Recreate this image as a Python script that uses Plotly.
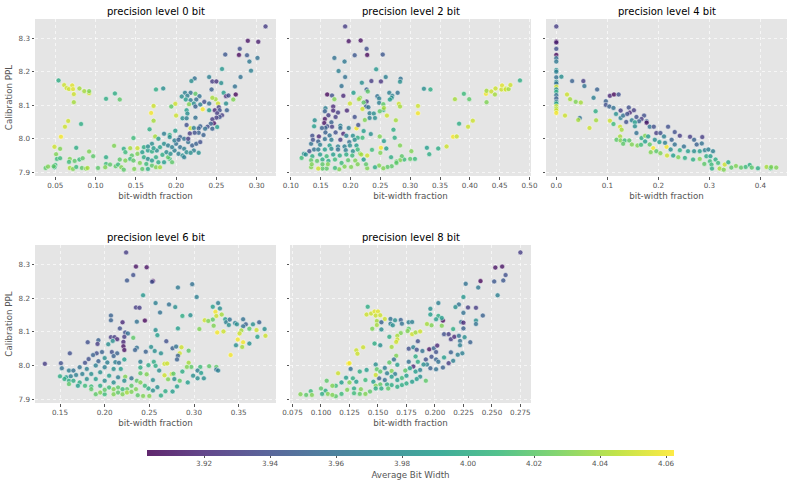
import plotly.graph_objects as go

# Bit-width fraction, calibration PPL and average bit width, one set per precision level.
p0_x = [.311,.289,.302,.279,.261,.278,.288,.301,.291,.293,
        .257,.280,.241,.223,.219,.245,.250,.256,.273,.244,
        .259,.211,.218,.262,.265,.274,.271,.224,.214,.207,
        .229,.212,.218,.225,.222,.216,.230,.224,.235,.241,
        .249,.245,.252,.262,.253,.248,.254,.263,.251,.257,
        .233,.241,.213,.214,.208,.213,.224,.199,.200,.194,
        .254,.250,.245,.247,.243,.239,.213,.218,.230,.228,
        .222,.236,.245,.251,.199,.234,.228,.223,.217,.192,
        .054,.061,.071,.064,.067,.072,.080,.086,.092,.073,
        .092,.073,.066,.062,.057,.082,.049,.076,.056,.051,
        .052,.056,.068,.067,.074,.080,.084,.092,.097,.113,
        .050,.049,.048,.038,.041,.068,.072,.076,.083,.088,
        .090,.103,.113,.112,.118,.123,.113,.124,.130,.175,
        .184,.172,.169,.172,.167,.147,.174,.135,.143,.152,
        .137,.145,.152,.158,.165,.170,.176,.125,.128,.130,
        .132,.135,.137,.143,.147,.148,.155,.158,.163,.165,
        .170,.175,.180,.185,.192,.195,.190,.160,.165,.170,
        .175,.178,.183,.188,.193,.198,.203,.180,.185,.190,
        .195,.200,.205,.210,.213,.208,.210,.215,.220,.225,
        .230,.222,.218,.228,.205,.210,.215,.178,.185,.192,
        .198,.203,.170,.160,.165,.172]
p0_y = [8.335,8.292,8.289,8.268,8.251,8.250,8.249,8.241,8.230,8.203,
        8.208,8.184,8.184,8.180,8.172,8.171,8.171,8.166,8.156,8.147,
        8.137,8.137,8.137,8.127,8.129,8.132,8.117,8.134,8.128,8.126,
        8.127,8.117,8.115,8.117,8.105,8.103,8.102,8.096,8.110,8.105,
        8.118,8.122,8.105,8.105,8.094,8.085,8.085,8.085,8.076,8.070,
        8.088,8.085,8.085,8.075,8.061,8.061,8.063,8.104,8.069,8.096,
        8.065,8.063,8.058,8.046,8.045,8.036,8.041,8.031,8.037,8.031,
        8.032,8.030,8.030,8.035,8.024,8.011,8.018,8.018,8.016,8.011,
        8.174,8.160,8.159,8.151,8.148,8.148,8.150,8.142,8.136,8.133,
        8.142,8.109,8.053,8.036,8.006,8.044,7.976,7.973,7.970,7.954,
        7.940,7.942,7.940,7.931,7.934,7.938,7.942,7.962,7.948,7.945,
        7.922,7.915,7.918,7.913,7.917,7.913,7.910,7.916,7.913,7.911,
        7.913,7.913,7.925,7.915,7.923,7.979,8.119,8.135,8.117,8.147,
        8.150,8.098,8.077,8.054,8.028,8.002,8.007,7.970,7.972,7.972,
        7.960,7.950,7.955,7.960,7.965,7.962,7.965,7.918,7.923,7.938,
        7.915,7.908,7.935,7.940,7.935,7.910,7.928,7.910,7.925,7.910,
        7.920,7.915,7.915,7.930,7.940,7.930,7.945,7.945,7.940,7.935,
        7.945,7.930,7.952,7.960,7.955,7.965,7.955,7.975,7.985,7.980,
        7.975,7.985,7.975,7.970,7.960,7.950,7.945,7.990,7.980,7.985,
        7.990,7.965,7.958,7.958,8.005,8.000,8.000,8.000,8.015,8.005,
        7.995,7.997,7.985,7.975,7.977,7.972]
p0_c = [3.93,3.91,3.915,3.94,3.945,3.905,3.945,3.96,3.965,3.97,
        3.985,3.96,3.97,3.96,3.98,3.93,3.925,3.98,3.96,3.95,
        3.99,3.97,3.96,3.92,3.94,3.905,4.03,4.02,3.97,3.98,
        3.96,3.99,3.97,3.96,3.98,4.03,3.97,3.95,3.94,3.96,
        4.04,4.04,4.05,3.98,3.93,3.92,3.94,3.95,3.93,3.93,
        4.06,3.99,3.99,3.98,3.98,3.97,3.96,4.05,4.05,4.02,
        3.94,3.93,3.93,3.91,3.95,3.94,3.94,4.05,3.95,3.95,
        3.97,3.96,3.95,3.99,3.99,3.95,3.95,3.94,3.93,4.00,
        4.00,4.05,4.055,4.05,4.05,4.055,4.04,4.04,4.05,4.05,
        4.03,4.04,4.05,4.05,4.06,4.00,4.05,4.00,4.03,4.03,
        4.01,4.01,4.03,4.01,4.02,4.01,4.02,4.03,4.02,4.00,
        4.01,4.00,4.02,4.02,4.03,4.04,4.03,4.01,4.02,4.03,
        4.04,4.02,4.01,4.03,4.02,4.03,4.00,4.00,4.02,4.00,
        3.98,4.05,4.06,4.04,4.00,4.01,4.04,4.00,4.04,4.05,
        4.01,4.02,4.03,3.99,3.99,4.00,3.98,4.02,4.01,4.02,
        4.03,4.02,4.03,4.01,4.02,4.03,4.03,4.02,4.01,4.00,
        4.02,4.03,4.04,3.99,4.01,4.02,4.02,4.00,3.98,3.99,
        4.00,4.00,4.00,3.98,3.98,3.97,3.97,3.99,3.98,3.97,
        3.97,3.96,3.96,3.97,3.98,3.98,3.97,3.96,3.95,3.95,
        3.94,3.97,3.98,3.98,3.95,3.96,3.93,3.99,3.97,3.98,
        3.97,3.95,3.98,4.00,3.98,3.99]

p2_x = [.191,.197,.217,.227,.207,.228,.254,.173,.190,.180,
        .243,.191,.259,.284,.283,.235,.251,.219,.185,.227,
        .205,.265,.279,.188,.161,.169,.173,.229,.270,.269,
        .266,.245,.248,.216,.214,.227,.222,.199,.248,.255,
        .281,.283,.226,.220,.230,.255,.249,.256,.158,.171,
        .171,.194,.157,.179,.163,.175,.207,.157,.232,.239,
        .241,.232,.261,.224,.276,.313,.313,.323,.334,.375,
        .390,.399,.428,.427,.428,.436,.443,.442,.453,.454,
        .460,.460,.465,.468,.484,.382,.405,.397,.372,.378,
        .361,.347,.328,.332,.302,.300,.308,.290,.286,.283,
        .277,.277,.268,.283,.274,.272,.249,.251,.256,.260,
        .250,.236,.234,.228,.222,.220,.210,.213,.197,.269,
        .262,.255,.248,.241,.228,.226,.222,.216,.201,.190,
        .181,.174,.160,.153,.146,.134,.118,.122,.140,.139,
        .168,.156,.161,.169,.183,.183,.158,.152,.175,.158,
        .188,.136,.147,.165,.193,.204,.212,.134,.137,.146,
        .157,.168,.183,.198,.207,.149,.165,.179,.190,.199,
        .210,.131,.139,.146,.157,.168,.179,.192,.204,.212,
        .125,.136,.149,.160,.171,.182,.193,.203,.218,.134,
        .144,.153,.163,.174,.185,.196,.208,.162,.135,.153,.212]
p2_y = [8.335,8.291,8.293,8.268,8.249,8.250,8.251,8.241,8.230,8.202,
        8.207,8.184,8.184,8.179,8.170,8.172,8.171,8.167,8.157,8.147,
        8.137,8.137,8.137,8.128,8.132,8.129,8.118,8.141,8.128,8.122,
        8.117,8.127,8.120,8.122,8.118,8.111,8.108,8.105,8.107,8.103,
        8.104,8.096,8.096,8.089,8.094,8.086,8.082,8.092,8.091,8.096,
        8.084,8.084,8.082,8.078,8.070,8.065,8.065,8.059,8.076,8.075,
        8.062,8.062,8.069,8.056,8.055,8.098,8.076,8.149,8.147,8.118,
        8.134,8.118,8.109,8.134,8.143,8.141,8.150,8.132,8.147,8.159,
        8.150,8.147,8.148,8.160,8.174,8.045,8.054,8.036,8.006,8.007,
        7.977,7.971,7.973,7.954,7.963,7.940,7.940,7.938,7.948,7.936,
        7.932,7.928,7.945,7.980,8.003,8.027,8.007,7.973,7.993,7.971,
        7.958,7.967,8.014,7.950,8.023,8.003,8.031,8.041,8.032,7.918,
        7.916,7.912,7.920,7.915,7.912,7.924,7.938,7.956,7.916,7.917,
        7.909,7.913,7.911,7.911,7.911,7.915,7.943,7.955,8.055,8.037,
        8.049,8.047,8.037,8.036,8.039,8.032,8.032,8.032,8.019,8.019,
        8.015,8.009,8.007,8.010,8.009,8.009,8.003,7.985,7.997,7.992,
        7.999,7.997,7.997,7.990,7.997,7.982,7.980,7.977,7.977,7.980,
        7.980,7.963,7.968,7.968,7.968,7.970,7.968,7.966,7.963,7.968,
        7.953,7.948,7.953,7.948,7.953,7.950,7.953,7.950,7.953,7.936,
        7.934,7.938,7.934,7.938,7.928,7.936,7.935,7.924,7.924,7.924,7.924]
p2_c = [3.93,3.91,3.91,3.94,3.945,3.905,3.945,3.96,3.965,3.97,
        3.985,3.96,3.97,3.96,3.98,3.93,3.925,3.98,3.96,3.95,
        3.99,3.97,3.96,3.92,3.905,3.94,4.03,4.02,3.97,3.98,
        3.99,3.96,3.97,4.03,4.04,3.93,4.02,4.05,3.97,4.02,
        4.05,4.04,3.95,4.05,3.96,4.00,4.02,4.04,3.97,3.92,
        3.92,3.92,3.95,3.93,3.93,3.93,3.94,3.91,3.97,3.98,
        3.98,3.97,4.05,4.03,4.04,4.05,4.06,3.98,4.00,4.04,
        4.01,4.02,4.03,4.06,4.04,4.05,4.05,4.04,4.05,4.055,
        4.05,4.05,4.04,4.05,4.00,4.00,4.05,4.05,4.06,4.05,
        4.05,4.00,3.99,4.00,4.03,4.02,4.01,4.01,4.02,4.03,
        4.02,4.02,4.00,4.03,4.00,4.00,4.03,4.06,3.99,3.99,
        4.03,4.01,3.98,4.05,3.99,4.01,4.06,3.94,3.97,4.02,
        4.02,4.03,4.03,4.00,4.03,4.02,3.99,4.03,4.03,4.03,
        4.03,4.01,4.02,4.02,4.05,4.03,4.01,3.98,3.98,3.99,
        3.95,3.91,3.94,3.93,3.97,3.96,3.95,3.95,3.94,3.95,
        3.92,3.94,3.92,3.96,3.97,3.98,4.00,3.96,3.94,3.95,
        3.96,3.97,3.93,3.96,3.98,3.97,3.99,3.97,3.97,3.98,
        3.99,3.94,3.96,3.97,3.99,3.98,3.96,3.97,3.98,4.01,
        3.98,4.00,3.99,4.01,3.99,4.00,4.00,4.01,4.04,4.02,
        4.02,4.00,4.00,4.01,4.01,4.02,4.03,4.03,4.03,4.02,4.03]

p4_x = [0,0,0,0,0,0,0,0,0,0,
        0,0,0,0,0,0,0,0,0,0,
        0,0,0,.010,.031,.053,.055,.080,.073,.021,
        .027,.038,.048,.017,.046,.043,.078,.077,.065,.097,
        .097,.105,.113,.122,.104,.112,.117,.126,.126,.131,
        .142,.144,.152,.139,.148,.137,.157,.172,.167,.162,
        .105,.112,.125,.128,.154,.154,.157,.177,.177,.183,
        .191,.219,.196,.204,.232,.242,.262,.270,.286,.125,
        .118,.126,.134,.143,.131,.148,.159,.166,.167,.174,
        .180,.174,.183,.190,.185,.196,.204,.193,.202,.211,
        .216,.217,.213,.226,.232,.224,.229,.239,.242,.250,
        .252,.258,.268,.270,.275,.285,.281,.291,.281,.290,
        .294,.298,.307,.302,.301,.304,.305,.312,.317,.320,
        .328,.330,.337,.343,.352,.362,.371,.379,.383,.395,
        .412,.420,.421,.431]
p4_y = [8.335,8.290,8.287,8.268,8.250,8.240,8.230,8.205,8.200,8.183,
        8.170,8.165,8.155,8.147,8.140,8.130,8.120,8.110,8.105,8.097,
        8.090,8.085,8.077,8.185,8.172,8.172,8.157,8.147,8.122,8.132,
        8.118,8.110,8.108,8.069,8.062,8.056,8.055,8.082,8.032,8.112,
        8.101,8.128,8.132,8.132,8.096,8.092,8.074,8.084,8.062,8.069,
        8.093,8.078,8.085,8.074,8.055,8.050,8.065,8.069,8.059,8.052,
        8.054,8.044,8.036,8.027,8.049,8.037,8.017,8.052,8.048,8.036,
        8.036,8.036,8.017,8.017,8.020,8.009,8.006,7.997,8.005,8.007,
        7.997,7.995,7.995,7.995,7.985,7.983,7.980,7.982,8.002,8.009,
        8.007,7.992,7.983,7.972,7.960,7.963,7.957,7.997,7.990,8.007,
        7.976,7.950,7.988,7.997,7.983,7.968,7.950,7.945,7.966,7.977,
        7.943,7.963,7.938,7.963,7.983,7.986,7.963,7.966,7.940,7.925,
        7.948,7.968,7.963,7.948,7.933,7.923,7.911,7.938,7.928,7.911,
        7.908,7.923,7.930,7.914,7.919,7.914,7.916,7.922,7.914,7.912,
        7.916,7.912,7.916,7.914]
p4_c = [3.93,3.91,3.915,3.94,3.905,3.96,3.965,3.98,3.97,3.96,
        3.98,3.96,4.05,3.98,4.00,3.96,3.95,3.97,4.00,4.05,
        4.04,4.05,4.06,3.98,3.95,3.93,3.96,3.95,3.97,4.05,
        4.04,4.03,4.04,4.05,3.96,4.04,4.04,4.00,4.05,3.95,
        3.94,3.92,3.905,3.94,3.95,3.96,3.98,3.93,3.97,3.96,
        3.94,3.92,3.93,3.94,3.97,3.94,3.94,3.94,3.93,3.95,
        4.05,4.01,4.05,4.04,3.99,3.98,3.96,3.95,3.91,3.96,
        3.94,3.94,3.93,3.94,3.94,3.93,3.93,3.95,3.93,4.04,
        4.02,4.03,4.01,4.02,4.02,4.03,4.03,4.01,4.00,4.03,
        3.99,3.99,4.02,4.06,4.03,4.02,4.03,3.98,3.99,3.97,
        4.06,4.05,3.97,3.95,3.96,3.98,3.99,4.03,4.00,3.96,
        4.00,3.99,4.00,3.98,3.95,3.96,3.99,3.97,4.03,4.02,
        4.00,3.97,3.97,3.99,4.01,4.01,4.00,4.00,4.01,4.04,
        4.03,4.05,4.00,4.02,4.03,4.02,4.01,4.00,4.02,4.00,
        4.04,4.01,4.03,4.03]

p6_x = [.224,.235,.247,.232,.225,.254,.253,.282,.298,.303,
        .243,.257,.272,.279,.235,.239,.262,.207,.207,.236,
        .245,.220,.287,.296,.327,.321,.329,.324,.325,.331,
        .321,.312,.316,.322,.335,.336,.339,.340,.346,.348,
        .326,.333,.306,.282,.355,.358,.355,.366,.373,.362,
        .370,.379,.380,.371,.353,.351,.349,.355,.354,.347,
        .362,.341,.257,.259,.269,.232,.207,.211,.214,.223,
        .226,.217,.222,.221,.209,.204,.193,.192,.181,.221,
        .222,.236,.234,.246,.252,.256,.263,.276,.280,.286,
        .284,.282,.281,.294,.208,.214,.210,.222,.161,.133,
        .151,.152,.191,.197,.187,.182,.178,.193,.200,.203,
        .212,.216,.240,.255,.267,.270,.294,.240,.249,.257,
        .261,.267,.275,.287,.297,.307,.317,.325,.325,.327,
        .304,.308,.292,.299,.304,.311,.293,.277,.271,.278,
        .284,.281,.276,.268,.263,.259,.254,.247,.240,.223,
        .230,.236,.254,.249,.250,.243,.237,.160,.165,.172,
        .180,.190,.200,.210,.218,.150,.157,.162,.168,.175,
        .185,.195,.205,.215,.155,.160,.165,.172,.180,.190,
        .200,.210,.222,.160,.170,.178,.185,.195,.205,.215,
        .225,.235,.245,.190,.195,.200,.210,.215,.220,.225,
        .230,.185,.200,.210,.220,.230,.240]
p6_y = [8.335,8.293,8.291,8.268,8.252,8.250,8.248,8.231,8.241,8.203,
        8.208,8.185,8.181,8.173,8.172,8.171,8.157,8.148,8.134,8.130,
        8.133,8.128,8.147,8.149,8.185,8.174,8.169,8.159,8.147,8.151,
        8.136,8.134,8.132,8.118,8.137,8.128,8.120,8.136,8.126,8.122,
        8.098,8.101,8.108,8.110,8.137,8.122,8.116,8.122,8.128,8.109,
        8.105,8.108,8.088,8.085,8.104,8.095,8.077,8.069,8.055,8.060,
        8.065,8.031,8.105,8.090,8.072,8.082,8.084,8.084,8.078,8.098,
        8.095,8.110,8.085,8.070,8.073,8.063,8.075,8.064,8.069,8.057,
        8.046,8.053,8.046,8.041,8.055,8.043,8.036,8.051,8.056,8.054,
        8.036,8.029,8.018,8.044,8.040,8.036,8.028,8.018,8.036,8.005,
        8.007,7.992,8.036,8.040,8.031,8.019,8.008,8.013,8.022,8.009,
        8.010,8.008,8.011,8.011,8.005,8.006,8.008,7.994,8.001,7.999,
        7.985,7.971,7.975,7.982,7.996,7.996,7.998,7.996,7.988,7.985,
        7.985,7.978,7.996,7.970,7.962,7.962,7.950,7.976,7.959,7.960,
        7.955,7.938,7.923,7.924,7.911,7.936,7.926,7.974,7.977,7.967,
        7.962,7.955,7.957,7.932,7.910,7.910,7.912,7.985,7.985,7.995,
        7.990,8.000,7.995,7.990,7.990,7.968,7.965,7.968,7.972,7.975,
        7.975,7.980,7.970,7.965,7.960,7.955,7.955,7.950,7.960,7.960,
        7.955,7.950,7.955,7.945,7.940,7.940,7.938,7.940,7.935,7.935,
        7.930,7.930,7.940,7.915,7.920,7.915,7.915,7.920,7.915,7.920,
        7.922,7.930,7.928,7.930,7.930,7.940,7.950]
p6_c = [3.93,3.91,3.91,3.94,3.945,3.905,3.94,3.965,3.96,3.97,
        3.985,3.97,3.96,3.98,3.93,3.93,3.96,3.95,3.95,3.96,
        3.905,3.92,4.00,3.98,3.97,3.99,3.98,4.06,4.05,4.04,
        4.02,4.05,4.03,4.03,3.99,3.97,3.98,3.96,3.97,3.98,
        4.06,4.05,4.03,3.99,3.96,3.95,3.96,3.98,3.95,4.02,
        4.05,3.98,4.05,3.99,4.04,4.05,4.06,4.06,4.04,3.98,
        3.98,4.06,3.98,3.99,3.94,4.02,3.93,3.93,3.92,3.94,
        3.96,3.94,3.93,3.92,3.98,3.98,3.95,3.93,3.94,3.91,
        3.91,3.96,3.95,3.95,3.98,3.98,3.98,3.95,3.96,4.05,
        4.05,3.95,3.95,4.02,3.94,3.95,3.95,3.99,3.94,3.93,
        3.94,3.96,3.94,3.95,3.95,3.94,3.94,3.95,3.98,3.97,
        3.97,3.96,3.97,4.00,4.05,4.05,4.04,4.00,4.00,4.00,
        3.98,4.05,4.05,4.00,4.02,4.01,4.02,4.02,3.96,3.97,
        3.97,3.99,4.03,3.98,3.98,3.98,3.99,4.02,4.03,3.98,
        4.02,3.99,3.99,4.00,4.00,3.98,3.98,4.03,4.02,4.03,
        3.96,4.02,3.98,4.00,4.03,4.03,4.02,3.97,3.96,3.96,
        3.97,3.97,3.97,3.98,3.99,4.00,3.99,3.97,3.97,3.97,
        3.98,3.98,3.99,3.97,4.00,4.00,4.00,4.00,3.98,3.99,
        3.98,3.98,3.98,4.02,3.99,4.01,4.01,4.00,4.01,4.02,
        4.02,4.03,4.01,4.02,4.03,4.01,4.03,4.02,4.03,4.04,
        4.03,4.02,4.02,4.03,4.01,4.02,4.03]

p8_x = [.275,.259,.253,.262,.260,.240,.252,.227,.238,.255,
        .225,.203,.221,.218,.196,.229,.236,.225,.242,.196,
        .203,.201,.207,.206,.236,.236,.223,.225,.197,.193,
        .225,.206,.141,.140,.144,.147,.150,.148,.152,.156,
        .149,.153,.149,.145,.153,.161,.165,.170,.171,.161,
        .163,.177,.180,.177,.176,.180,.183,.187,.170,.167,
        .167,.166,.160,.162,.147,.152,.137,.131,.132,.124,
        .125,.126,.115,.105,.185,.177,.181,.184,.189,.195,
        .199,.202,.201,.208,.212,.216,.214,.217,.221,.222,
        .226,.231,.222,.224,.220,.214,.192,.197,.201,.208,
        .216,.212,.203,.193,.166,.164,.148,.160,.167,.177,
        .181,.185,.183,.207,.201,.196,.190,.134,.140,.122,
        .128,.118,.125,.131,.139,.146,.151,.158,.148,.149,
        .162,.165,.174,.178,.183,.187,.187,.192,.184,.180,
        .175,.171,.167,.162,.158,.152,.148,.143,.135,.139,
        .134,.129,.123,.118,.113,.113,.110,.104,.100,.101,
        .106,.091,.092,.087,.082,.110,.129,.148,.153,.159,
        .167,.156,.152,.156,.162,.171,.175]
p8_y = [8.335,8.293,8.290,8.268,8.252,8.250,8.249,8.242,8.231,8.208,
        8.203,8.185,8.181,8.173,8.168,8.172,8.171,8.156,8.148,8.151,
        8.147,8.137,8.133,8.141,8.133,8.123,8.129,8.127,8.119,8.123,
        8.110,8.118,8.174,8.151,8.154,8.160,8.160,8.148,8.149,8.138,
        8.132,8.128,8.120,8.109,8.107,8.138,8.134,8.135,8.124,8.124,
        8.119,8.128,8.129,8.109,8.102,8.093,8.098,8.101,8.096,8.088,
        8.077,8.070,8.085,8.055,8.065,8.060,8.054,8.045,8.035,8.006,
        8.007,7.990,7.977,7.955,8.072,8.050,8.054,8.047,8.043,8.048,
        8.051,8.059,8.040,8.093,8.093,8.108,8.078,8.085,8.088,8.073,
        8.084,8.069,8.060,8.036,8.032,8.039,8.018,8.026,8.018,8.024,
        8.014,8.007,8.011,8.003,8.029,8.018,8.003,8.009,8.002,8.011,
        7.997,8.011,8.027,7.994,7.989,7.992,8.003,7.982,7.987,7.964,
        7.962,7.950,7.950,7.952,7.957,7.952,7.962,7.977,7.972,7.989,
        7.984,7.975,7.985,7.992,7.982,7.987,7.967,7.955,7.960,7.952,
        7.947,7.942,7.957,7.942,7.944,7.944,7.940,7.923,7.930,7.916,
        7.916,7.932,7.928,7.916,7.909,7.940,7.940,7.925,7.932,7.916,
        7.916,7.924,7.913,7.913,7.915,7.913,7.918,7.932,7.932,7.932,
        7.937,7.957,7.982,7.993,7.967,7.963,7.970]
p8_c = [3.93,3.91,3.91,3.94,3.945,3.905,3.945,3.96,3.965,3.97,
        3.985,3.97,3.96,3.98,3.98,3.93,3.93,3.96,3.95,3.99,
        4.00,3.99,3.905,3.99,3.98,3.96,3.96,3.92,4.03,4.04,
        3.95,4.03,4.00,4.05,4.05,4.055,4.055,4.05,4.05,4.05,
        4.04,3.95,4.04,4.03,3.98,3.96,3.98,3.95,3.96,3.97,
        3.98,3.97,3.97,4.02,4.03,4.05,4.04,4.05,4.03,4.04,
        4.05,4.05,4.00,4.04,4.00,3.98,4.05,4.05,4.05,4.06,
        4.06,3.96,4.05,4.02,3.94,3.94,3.97,3.94,3.96,3.91,
        3.95,3.92,3.94,3.94,3.93,4.00,3.93,3.92,3.96,3.96,
        3.98,3.95,3.97,3.97,3.97,3.95,3.94,3.94,3.95,3.99,
        3.97,3.93,3.96,3.97,4.03,3.96,3.98,4.02,3.99,3.96,
        3.92,4.00,4.00,3.95,3.96,3.95,3.98,4.00,3.99,3.99,
        4.00,3.99,4.03,3.99,4.01,3.99,3.95,3.97,4.05,4.02,
        4.03,3.97,4.02,3.99,3.99,3.97,3.98,4.02,3.99,3.99,
        4.00,4.00,3.99,4.00,4.00,4.02,4.03,4.02,4.03,4.03,
        4.02,4.00,4.03,4.01,4.02,4.01,4.03,4.00,4.02,4.00,
        4.03,4.01,4.03,4.02,4.03,4.03,4.01,4.00,4.00,4.02,
        4.00,3.96,4.02,3.97,3.99,4.01,3.99]

panel_titles = ["precision level 0 bit", "precision level 2 bit", "precision level 4 bit",
                "precision level 6 bit", "precision level 8 bit"]
panel_series = [(p0_x, p0_y, p0_c), (p2_x, p2_y, p2_c), (p4_x, p4_y, p4_c),
                (p6_x, p6_y, p6_c), (p8_x, p8_y, p8_c)]
x_ranges = [[0.0248, 0.324], [0.0986, 0.5025], [-0.0202, 0.452], [0.122, 0.3918], [0.0728, 0.2843]]
x_ticks = [[0.05, 0.10, 0.15, 0.20, 0.25, 0.30],
           [0.10, 0.15, 0.20, 0.25, 0.30, 0.35, 0.40, 0.45, 0.50],
           [0.0, 0.1, 0.2, 0.3, 0.4],
           [0.15, 0.20, 0.25, 0.30, 0.35],
           [0.075, 0.100, 0.125, 0.150, 0.175, 0.200, 0.225, 0.250, 0.275]]
x_formats = [".2f", ".2f", ".1f", ".2f", ".3f"]
y_ticks = [7.9, 8.0, 8.1, 8.2, 8.3]
y_range = [7.889, 8.357]
bar_ticks = [3.92, 3.94, 3.96, 3.98, 4.00, 4.02, 4.04, 4.06]

W, H = 793, 486
boxes = [(35, 276, 19, 176), (290, 531, 19, 176), (546, 787, 19, 176),
         (35, 276, 245, 403), (290, 531, 245, 403)]

# viridis stops, slightly transparent so the colour bar carries the same tint as the markers
viridis = ["#440154", "#482878", "#3e4989", "#31688e", "#26828e",
           "#1f9e89", "#35b779", "#6ece58", "#b5de2b", "#fde725"]
def tinted(hex_colour, alpha=0.85):
    r, g, b = (int(hex_colour[i:i + 2], 16) for i in (1, 3, 5))
    return f"rgba({r},{g},{b},{alpha})"
scale = [[i / (len(viridis) - 1), tinted(c)] for i, c in enumerate(viridis)]

GREY = "#555555"
GRID = "rgba(255,255,255,0.65)"
fig = go.Figure()
layout = dict(
    width=W, height=H, margin=dict(l=0, r=0, t=0, b=0), showlegend=False,
    paper_bgcolor="white", plot_bgcolor="#E5E5E5",
    font=dict(family="DejaVu Sans", color=GREY, size=8),
    annotations=[],
)
for i, (xs, ys, cs) in enumerate(panel_series):
    assert len(xs) == len(ys) == len(cs), i
    n = "" if i == 0 else str(i + 1)
    l, r, t, b = boxes[i]
    fig.add_trace(go.Scatter(
        x=xs, y=ys, mode="markers", xaxis=f"x{n}", yaxis=f"y{n}", hoverinfo="skip",
        marker=dict(
            size=5, color=cs, cmin=3.9027, cmax=4.0624, colorscale=scale, opacity=0.92,
            line=dict(color="rgba(255,255,255,0.85)", width=0.6),
            showscale=i == 0,
            colorbar=dict(
                orientation="h", x=(147 + 674) / 2 / W, xanchor="center", xref="paper",
                lenmode="pixels", len=527, thicknessmode="pixels", thickness=6,
                y=1 - 450 / H, yanchor="top", yref="paper", ypad=0, xpad=0,
                outlinewidth=0, tickmode="array", tickvals=bar_ticks,
                ticktext=[f"{v:.2f}" for v in bar_ticks],
                ticks="outside", ticklen=2, tickwidth=0.7, tickcolor=GREY,
                tickfont=dict(size=7.2, color=GREY, family="DejaVu Sans"),
                title=dict(text="Average Bit Width", side="bottom",
                           font=dict(size=8.7, color=GREY, family="DejaVu Sans")),
            ),
        ),
    ))
    layout[f"xaxis{n}"] = dict(
        domain=[l / W, r / W], range=x_ranges[i], anchor=f"y{n}",
        tickmode="array", tickvals=x_ticks[i], tickformat=x_formats[i],
        ticks="outside", ticklen=2.5, tickwidth=0.7, tickcolor=GREY,
        tickfont=dict(size=7.2, color=GREY), showgrid=True, gridcolor=GRID, gridwidth=0.6,
        griddash="dot", zeroline=False, showline=False, automargin=False,
        title=dict(text="bit-width fraction", font=dict(size=8.7, color=GREY), standoff=3),
    )
    layout[f"yaxis{n}"] = dict(
        domain=[1 - b / H, 1 - t / H], range=y_range, anchor=f"x{n}",
        tickmode="array", tickvals=y_ticks, tickformat=".1f",
        ticks="outside", ticklen=2.5, tickwidth=0.7, tickcolor=GREY,
        tickfont=dict(size=7.2, color=GREY), showticklabels=i in (0, 3),
        showgrid=True, gridcolor=GRID, gridwidth=0.6, griddash="dot",
        zeroline=False, showline=False, automargin=False,
        title=dict(text="Calibration PPL" if i in (0, 3) else "",
                   font=dict(size=8.7, color=GREY), standoff=4),
    )
    layout["annotations"].append(dict(
        text=panel_titles[i], x=(l + r) / 2 / W, y=1 - (t - 0.5) / H, xref="paper", yref="paper",
        xanchor="center", yanchor="bottom", showarrow=False,
        font=dict(size=10, color="black", family="DejaVu Sans"),
    ))
fig.update_layout(**layout)
fig.write_html("out.html")
